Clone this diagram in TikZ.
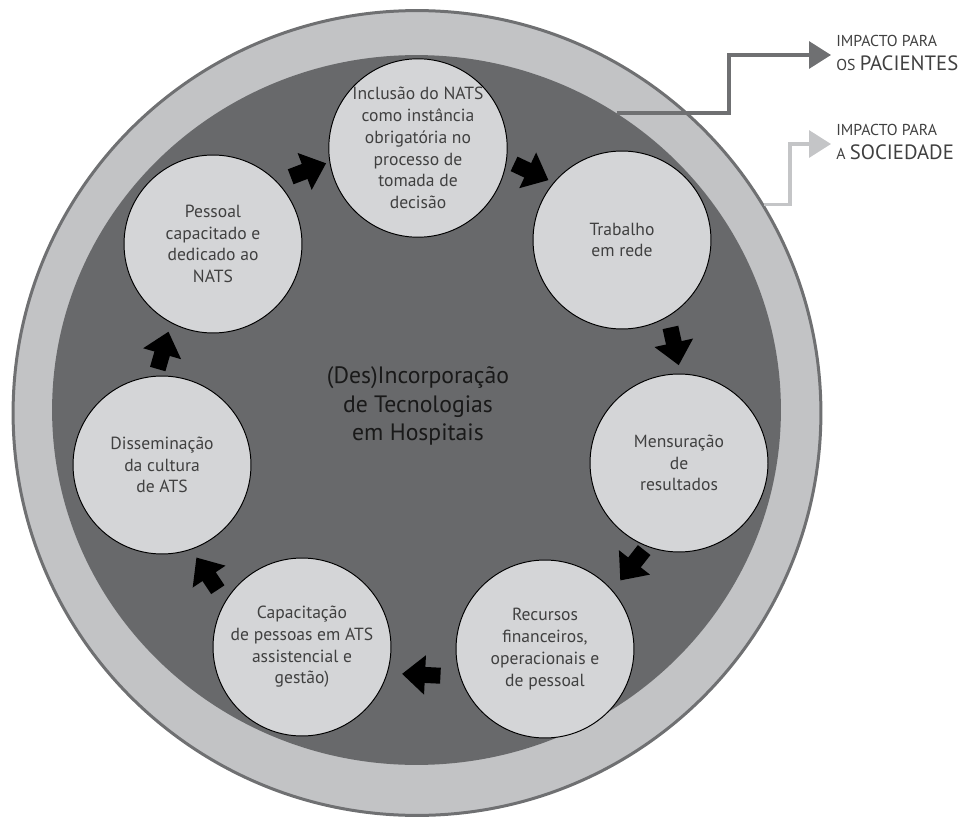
\documentclass[tikz,border=0pt]{standalone}
\usepackage{fontspec}
\setmainfont{PT Sans}
\usetikzlibrary{arrows.meta,shapes.geometric}
\definecolor{ringgray}{HTML}{C2C3C5}
\definecolor{edgegray}{HTML}{6F7072}
\definecolor{coregray}{HTML}{68696B}
\definecolor{stepgray}{HTML}{D4D5D7}
\definecolor{txtgray}{HTML}{404040}
\definecolor{implight}{HTML}{C4C5C7}
\tikzset{
  etapa/.style={circle, draw=black, line width=0.55pt, fill=stepgray, minimum size=3.56cm,
    inner sep=0pt, align=center, text=txtgray, font=\fontsize{10}{12.35}\selectfont},
  seta/.style={line width=0.32cm, -{Triangle[length=0.46cm, width=0.76cm]}},
  impacto/.style={line width=0.065cm, -{Triangle[length=0.44cm, width=0.54cm]}},
  rotulo/.style={anchor=west, align=left, inner sep=0.1cm, text=txtgray,
    font=\fontsize{9}{14.2}\selectfont}
}
\newcommand{\grande}[1]{{\fontsize{11.8}{14.2}\selectfont #1}}

\begin{document}
\begin{tikzpicture}[x=0.02cm, y=-0.02cm]
    \useasboundingbox (0,0) rectangle (964,818);
    \node[ellipse, draw=edgegray, line width=0.06cm, fill=ringgray, inner sep=0pt,
        minimum width=16.16cm, minimum height=16.1cm] (anel) at (417,413) {};
    \node[ellipse, fill=coregray, inner sep=0pt,
        minimum width=14.58cm, minimum height=14.2cm] (nucleo) at (416.5,410) {};

    \coordinate (k1) at (729,55);
    \coordinate (k2) at (790,144);
    \node[rotulo] (pac) at (831,53) {IMPACTO PARA\\OS \grande{PACIENTES}};
    \node[rotulo] (soc) at (831,142) {IMPACTO PARA\\A \grande{SOCIEDADE}};
    \draw[impacto, edgegray] (nucleo.56) -| (k1) -- (pac.west |- k1);
    \draw[impacto, implight] (anel.31) -| (k2) -- (soc.west |- k2);

    \node[font=\fontsize{13.5}{16.2}\selectfont, align=center, text=black!90] (titulo) at (418,406)
        {(Des)Incorporação\\de Tecnologias\\em Hospitais};

    \node[etapa] (in) at (418,148) {Inclusão do NATS\\como instância\\obrigatória no\\processo de\\tomada de\\decisão};
    \node[etapa] (tr) at (622,240) {Trabalho\\em rede};
    \node[etapa] (me) at (679,463) {Mensuração\\de\\resultados};
    \node[etapa] (re) at (545,649) {Recursos\\financeiros,\\operacionais e\\de pessoal};
    \node[etapa] (ca) at (302,647) {Capacitação\\de pessoas em ATS\\assistencial e\\gestão)};
    \node[etapa] (di) at (162,465) {Disseminação\\da cultura\\de ATS};
    \node[etapa] (ps) at (213,244) {Pessoal\\capacitado e\\dedicado ao\\NATS};

    \draw[seta, shorten <=0.285cm, shorten >=0.07cm] (ps.44) -- (in.189);
    \draw[seta, shorten <=0.16cm, shorten >=0.11cm] (in.-8) -- (tr.140);
    \draw[seta, shorten <=0.22cm, shorten >=0.17cm] (tr.-59) -- (me.89);
    \draw[seta, shorten <=0.09cm, shorten >=0.25cm] (me.-111) -- (re.41);
    \draw[seta, shorten <=0.39cm, shorten >=0.29cm] (re.-162) -- (ca.-17);
    \draw[seta, shorten <=0.27cm, shorten >=0.19cm] (ca.149) -- (di.-71);
    \draw[seta, shorten <=0.14cm, shorten >=0.18cm] (di.94) -- (ps.-118);
\end{tikzpicture}
\end{document}
